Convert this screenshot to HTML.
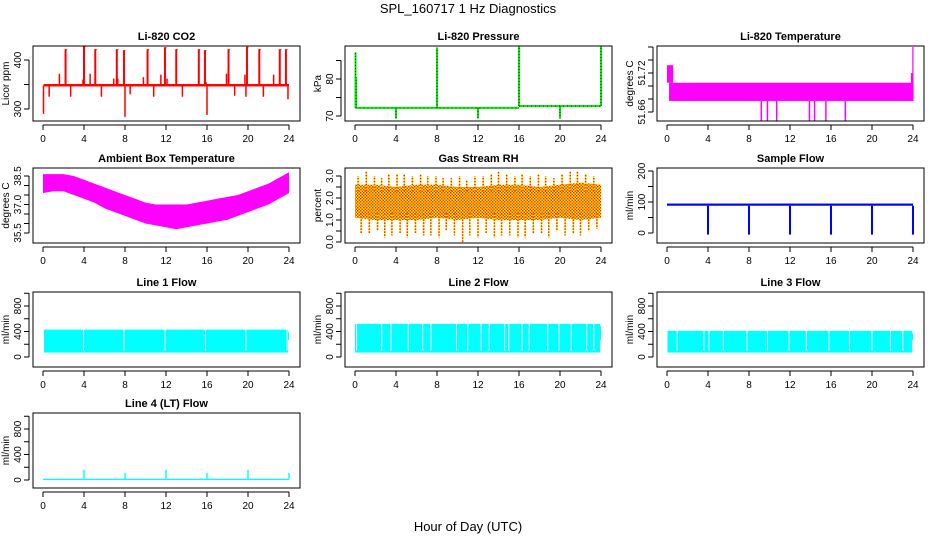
<!DOCTYPE html>
<html><head><meta charset="utf-8"><style>
html,body{margin:0;padding:0;background:#fff;}
svg{display:block;font-family:"Liberation Sans",sans-serif;}
</style></head><body>
<svg id="fig" width="936" height="540" viewBox="0 0 936 540" xmlns="http://www.w3.org/2000/svg">
<defs>
<pattern id="rhpat" width="3" height="3" patternUnits="userSpaceOnUse">
<rect width="3" height="3" fill="#ffff00"/><rect x="0" y="0" width="1.5" height="1.5" fill="#ff2000"/><rect x="1.5" y="1.5" width="1.5" height="1.5" fill="#ff3000"/>
</pattern>
</defs>
<text x="468" y="13" font-size="13" text-anchor="middle">SPL_160717  1 Hz Diagnostics</text>
<text x="468" y="531" font-size="13" text-anchor="middle">Hour of Day (UTC)</text>
</svg>
<script>
// ---- data ----
const xTicks=[0,4,8,12,16,20,24];
const co2Base=[346,351];
const co2UpHours=[2.2,4.0,5.1,7.2,7.9,10.2,11.9,13.0,15.2,15.8,18.1,19.9,21.1,23.1,23.7];
const co2UpVals=[422,428,422,422,420,422,426,422,422,420,422,427,422,422,422];
const co2MidHours=[1.6,3.9,4.6,6.9,7.3,9.8,11.5,12.1,15.9,17.9,19.7,22.5];
const co2MidVals=[372,360,372,362,362,365,370,362,355,372,370,370];
const co2DownHours=[0.05,0.6,2.7,5.7,8.0,8.5,10.8,13.6,16.0,18.7,19.8,21.5,23.9];
const co2DownVals=[290,325,325,325,284,330,325,325,288,327,325,325,320];
const presBaseHours=[0.05,16.0,24.0];
const presBaseVals=[72.2,72.7];
const presSpikeHours=[0.05,8.0,16.0,24.0,4.0,12.0,20.0,0.1];
const presSpikeVals=[87.2,88.5,89.0,89.0,69.3,69.3,69.3,80.5];
const tempBand=[51.677,51.705];
const tempStart=[51.705,51.732];
const tempEnd=[51.720,51.760];
const tempDipHours=[9.2,9.8,10.7,13.9,14.4,15.5,17.4];
const tempDipVal=51.646;
const ambHours=[0,1,2,3,4,5,6,7,8,9,10,11,12,13,14,15,16,17,18,19,20,21,22,23,24];
const ambHigh=[38.6,38.6,38.6,38.5,38.3,38.1,37.9,37.7,37.5,37.3,37.1,37.0,37.0,37.0,37.0,37.1,37.2,37.3,37.4,37.5,37.7,37.9,38.1,38.4,38.7];
const ambLow=[37.6,37.7,37.7,37.5,37.3,37.1,36.8,36.6,36.4,36.2,36.0,35.9,35.8,35.7,35.8,35.9,36.0,36.1,36.2,36.4,36.6,36.8,37.0,37.3,37.6];
const rhHours=[0,2,4,6,8,10,12,14,16,18,20,22,24];
const rhHigh=[2.6,2.6,2.5,2.6,2.6,2.5,2.5,2.6,2.6,2.5,2.6,2.7,2.6];
const rhLow=[1.1,1.0,1.0,1.0,1.1,1.0,1.1,1.0,1.0,1.0,1.1,1.0,1.1];
const rhSpikeHours=[0.3,1.1,1.9,2.6,3.3,4.1,4.8,5.6,6.4,7.1,7.9,8.6,9.4,10.2,10.9,11.7,12.5,13.3,14.0,14.8,15.6,16.3,17.1,17.9,18.6,19.4,20.2,21.0,21.7,22.5,23.3];
const rhSpikeHi=[3.0,3.2,3.0,2.9,3.1,3.1,3.1,3.0,3.1,3.0,3.0,2.9,2.9,3.0,2.8,3.0,3.0,3.1,3.2,3.1,3.0,3.1,3.0,3.1,3.0,2.9,3.1,3.2,3.2,3.1,3.0];
const rhSpikeLo=[0.4,0.4,0.5,0.2,0.3,0.4,0.2,0.4,0.3,0.3,0.2,0.5,0.3,0.0,0.3,0.2,0.4,0.2,0.3,0.3,0.2,0.2,0.4,0.4,0.2,0.5,0.3,0.4,0.3,0.5,0.6];
const flowBand=[88,95];
const flowDropHours=[4,8,12,16,20,24];
const flowDropVal=-5;
const l1Band=[70,430];
const l1GapHours=[3.95,7.9,11.9,15.85,19.8,23.8];
const l2Band=[70,520];
const l2GapHours=[0.15,2.6,3.5,5.2,6.6,7.4,9.9,11.0,12.3,13.1,14.6,15.0,16.3,17.0,18.8,19.9,21.1,22.6,23.3];
const l3Band=[70,410];
const l3GapHours=[1.0,3.6,4.1,5.5,7.8,9.8,11.9,13.6,15.8,17.8,20.0,21.8,23.0];
const l4Band=[0,20];
const l4SpikeHours=[4,8,12,16,20,24];
const l4SpikeVals=[160,110,160,110,160,110];

// ---- drawing helpers ----
const svg=document.getElementById('fig');
const NS='http://www.w3.org/2000/svg';
function el(tag,attrs,parent){const e=document.createElementNS(NS,tag);for(const k in attrs)e.setAttribute(k,attrs[k]);(parent||svg).appendChild(e);return e;}
const colL=[33,345,657], rowT=[46,168,292,413], W=267, H=75;
function makePanel(name,c,r,title,ylab,yRef,yTicks,yLabels,fmt){
  const L=colL[c],T=rowT[r];
  const g=el('g',{});
  
  
  const xs=h=>L+10+h*(246/24);
  const ys=v=>yRef[1]+(v-yRef[0])*(yRef[3]-yRef[1])/(yRef[2]-yRef[0]);
  const t=el('text',{x:L+W/2,y:T-6,'font-size':11,'font-weight':'bold','text-anchor':'middle'},g);
  t.textContent=title;
  const plot=el('g',{},g);
  
  
  const frame=el('rect',{x:L,y:T,width:W,height:H,fill:'none',stroke:'#000','stroke-width':1},g);
  
  
  const xa=el('g',{},g);
  
  
  el('line',{x1:xs(0),x2:xs(24),y1:T+H+4,y2:T+H+4,stroke:'#000'},xa);
  xTicks.forEach(h=>{el('line',{x1:xs(h),x2:xs(h),y1:T+H+4,y2:T+H+9,stroke:'#000'},xa);
    const tx=el('text',{x:xs(h),y:T+H+21,'font-size':10,'text-anchor':'middle'},xa);tx.textContent=h;});
  const ya=el('g',{},g);
  
  
  el('line',{x1:L-4,x2:L-4,y1:ys(yTicks[0]),y2:ys(yTicks[yTicks.length-1]),stroke:'#000'},ya);
  yTicks.forEach(v=>el('line',{x1:L-4,x2:L-9,y1:ys(v),y2:ys(v),stroke:'#000'},ya));
  yLabels.forEach(v=>{const y=ys(v);const tx=el('text',{x:0,y:0,'font-size':10,'text-anchor':'middle',transform:`translate(${L-12},${y}) rotate(-90)`},ya);tx.textContent=fmt?fmt(v):v;});
  const yl=el('text',{x:0,y:0,'font-size':10,'text-anchor':'middle',transform:`translate(${L-24},${T+H/2}) rotate(-90)`},g);
  yl.textContent=ylab;
  return {xs,ys,plot,T,L};
}
function rect(p,h0,h1,v0,v1,fill){const x0=p.xs(h0),x1=p.xs(h1),y0=p.ys(v0),y1=p.ys(v1);
  return el('rect',{x:Math.min(x0,x1),y:Math.min(y0,y1),width:Math.max(Math.abs(x1-x0),1),height:Math.max(Math.abs(y1-y0),1),fill:fill},p.plot);}
function vline(p,h,v0,v1,col,w,dash){const a={x1:p.xs(h),x2:p.xs(h),y1:p.ys(v0),y2:p.ys(v1),stroke:col,'stroke-width':w||1.5};if(dash)a['stroke-dasharray']=dash;return el('line',a,p.plot);}

// CO2
let p=makePanel('co2',0,0,'Li-820 CO2','Licor ppm',[300,109,400,60],[300,350,400],[300,400]);
rect(p,0.05,24,co2Base[0],co2Base[1],'#ff0000');
co2UpHours.forEach((h,i)=>{vline(p,h,348,co2UpVals[i],'#ff0000',2);rect(p,h,h+0.15,co2UpVals[i]-2,co2UpVals[i],'#ff0000');});
co2MidHours.forEach((h,i)=>vline(p,h,348,co2MidVals[i],'#ff0000',1.5));
co2DownHours.forEach((h,i)=>vline(p,h,348,co2DownVals[i],'#ff0000',1.5));

// Pressure
p=makePanel('pressure',1,0,'Li-820 Pressure','kPa',[70,116,80,79],[70,75,80,85],[70,80]);
for(let i=0;i<presBaseVals.length;i++){el('line',{x1:p.xs(presBaseHours[i]),x2:p.xs(presBaseHours[i+1]),y1:p.ys(presBaseVals[i]),y2:p.ys(presBaseVals[i]),stroke:'#00ee00','stroke-width':2},p.plot);
  el('line',{x1:p.xs(presBaseHours[i]),x2:p.xs(presBaseHours[i+1]),y1:p.ys(presBaseVals[i]),y2:p.ys(presBaseVals[i]),stroke:'#333','stroke-width':1,'stroke-dasharray':'1 3'},p.plot);}
presSpikeHours.forEach((h,i)=>{const b=h<16?presBaseVals[0]:presBaseVals[1];vline(p,h,b,presSpikeVals[i],'#00ee00',2);vline(p,h,b,presSpikeVals[i],'#222',1,'1 2');});

// Li-820 temperature
p=makePanel('li820-temp',2,0,'Li-820 Temperature','degrees C',[51.66,112,51.72,73],[51.66,51.68,51.70,51.72,51.74,51.76],[51.66,51.72],v=>v.toFixed(2));
rect(p,0,0.6,tempStart[0],tempStart[1],'#ff00ff');
rect(p,0.2,23.9,tempBand[0],tempBand[1],'#ff00ff');
rect(p,23.8,24,tempBand[0],tempEnd[0],'#ff00ff');
rect(p,23.93,24.05,tempBand[0],tempEnd[1],'#ff00ff');
tempDipHours.forEach(h=>vline(p,h,tempBand[0],tempDipVal,'#ff00ff',1.5));

// Ambient
p=makePanel('ambient-temp',0,1,'Ambient Box Temperature','degrees C',[35.5,233,38.5,176],[35.5,36,36.5,37,37.5,38,38.5],[35.5,37,38.5],v=>v.toFixed(1));
{let pts=ambHours.map((h,i)=>p.xs(h)+','+p.ys(ambHigh[i]));pts=pts.concat(ambHours.slice().reverse().map((h,j)=>{const i=ambHours.length-1-j;return p.xs(h)+','+p.ys(ambLow[i]);}));
el('polygon',{points:pts.join(' '),fill:'#ff00ff'},p.plot);}

// RH
p=makePanel('rh',1,1,'Gas Stream RH','percent',[0,242,3,176],[0,0.5,1,1.5,2,2.5,3],[0,1,2,3],v=>v.toFixed(1));
{let pts=rhHours.map((h,i)=>p.xs(h)+','+p.ys(rhHigh[i]));pts=pts.concat(rhHours.slice().reverse().map((h,j)=>{const i=rhHours.length-1-j;return p.xs(h)+','+p.ys(rhLow[i]);}));
el('polygon',{points:pts.join(' '),fill:'url(#rhpat)'},p.plot);}
rhSpikeHours.forEach((h,i)=>{vline(p,h,2.3,rhSpikeHi[i],'#ffff00',1.5);vline(p,h,2.3,rhSpikeHi[i],'#ff2000',1.5,'1.5 1.5');
  vline(p,h+0.3,1.3,rhSpikeLo[i],'#ffff00',1.5);vline(p,h+0.3,1.3,rhSpikeLo[i],'#ff2000',1.5,'1.5 1.5');});

// Sample flow
p=makePanel('sample-flow',2,1,'Sample Flow','ml/min',[0,233,200,171],[0,50,100,150,200],[0,100,200]);
rect(p,0,24,flowBand[0],flowBand[1],'#0000ff');
flowDropHours.forEach(h=>{vline(p,h,flowBand[0],flowDropVal,'#0000ff',2);rect(p,h-0.1,h+0.1,flowDropVal,flowDropVal+8,'#0000ff');});

// Line flows
function flowPanel(name,c,r,title,yref,band,gaps,startH){
  const q=makePanel(name,c,r,title,'ml/min',yref,[0,200,400,600,800,1000],[0,400,800]);
  rect(q,startH,23.9,band[0],band[1],'#00ffff');
  rect(q,23.9,24,band[0]+200,band[1]-40,'#00ffff');
  gaps.forEach(h=>vline(q,h,band[0]+30,band[1],'#ffffff',1));
  return q;
}
flowPanel('line1-flow',0,2,'Line 1 Flow',[0,357,800,306],l1Band,l1GapHours,0.1);
flowPanel('line2-flow',1,2,'Line 2 Flow',[0,357,800,306],l2Band,l2GapHours,0);
flowPanel('line3-flow',2,2,'Line 3 Flow',[0,357,800,306],l3Band,l3GapHours,0.05);
p=makePanel('line4-flow',0,3,'Line 4 (LT) Flow','ml/min',[0,480,800,429],[0,200,400,600,800,1000],[0,400,800]);
rect(p,0,24,l4Band[0],l4Band[1],'#00ffff');
l4SpikeHours.forEach((h,i)=>vline(p,h,l4Band[1],l4SpikeVals[i],'#00ffff',1.5));
</script>
</body></html>
